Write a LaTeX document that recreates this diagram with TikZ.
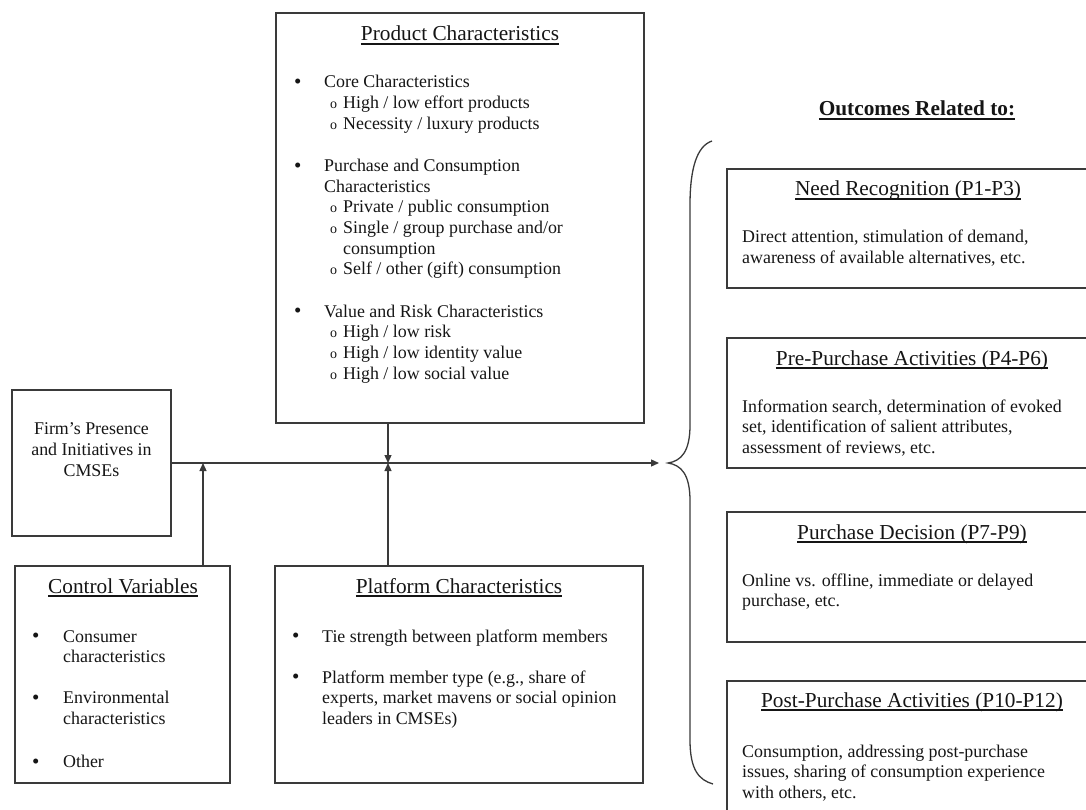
\documentclass[tikz,border=0pt]{standalone}
\usepackage{fontspec}
\setmainfont{Liberation Serif}
\usetikzlibrary{arrows.meta}

\definecolor{boxline}{HTML}{3A3A3A}
\definecolor{inkclr}{HTML}{151515}

% underlined heading with the rule set just below the baseline
\newlength\ulwd
\newcommand\ulhead[2][1.4pt]{\settowidth\ulwd{#2}\rlap{\rule[-3.6pt]{\ulwd}{#1}}#2}
% list markers
\newcommand\bul[1][30pt]{\makebox[#1][l]{\raisebox{-0.5pt}{\fontsize{21}{21}\selectfont\textbullet}}}
\newcommand\subb{\hspace*{36pt}\makebox[13pt][l]{\fontsize{14}{14}\selectfont o}}

\begin{document}
\begin{tikzpicture}[x=1pt,y=-1pt,
  box/.style={draw=boxline, line width=1.5pt, inner sep=0pt},
  body/.style={inner sep=0pt, anchor=base west, text=inkclr,
    font=\fontsize{17.9}{20.6}\selectfont},
  head/.style={inner sep=0pt, anchor=base, text=inkclr,
    font=\fontsize{21.3}{24}\selectfont},
  arr/.style={draw=boxline, line width=1.3pt,
    -{Triangle[length=8pt,width=7pt]}},
  brace/.style={draw=boxline, line width=1.3pt}]
\useasboundingbox (0,0) rectangle (1086,810);
\clip (0,0) rectangle (1086,810);

% ---- boxes ----
\node[box, minimum width=368, minimum height=410] (prod) at (460,218) {};
\node[box, minimum width=159, minimum height=146] (firm) at (91.5,463) {};
\node[box, minimum width=215, minimum height=217] (ctrl) at (122.5,674.5) {};
\node[box, minimum width=368, minimum height=217] (plat) at (459,674.5) {};
\node[box, minimum width=368, minimum height=119] (need) at (911,228.5) {};
\node[box, minimum width=368, minimum height=130] (pre)  at (911,403) {};
\node[box, minimum width=368, minimum height=130] (dec)  at (911,577) {};
\node[box, minimum width=368, minimum height=150] (post) at (911,756) {};

% ---- headings ----
\node[head] (prodT) at (460,41) {\ulhead{Product Characteristics}};
\node[head] (ctrlT) at (123,593) {\ulhead{Control Variables}};
\node[head] (platT) at (459,593) {\ulhead{Platform Characteristics}};
\node[head] (needT) at (908,196) {\ulhead{Need Recognition (P1-P3)}};
\node[head] (preT)  at (912,365) {\ulhead{Pre-Purchase Activities (P4-P6)}};
\node[head] (decT)  at (912,539) {\ulhead{Purchase Decision (P7-P9)}};
\node[head] (postT) at (912,707) {\ulhead{Post-Purchase Activities (P10-P12)}};
\node[head, font=\bfseries\fontsize{21.3}{24}\selectfont] (outT) at (917,116)
  {\ulhead[2pt]{Outcomes Related to:}};

% ---- box contents ----
\node[body] (prodL) at (294,88) {\begin{tabular}[t]{@{}l@{}}
\bul Core Characteristics\\
\subb High / low effort products\\
\subb Necessity / luxury products\\[22pt]
\bul Purchase and Consumption\\
\hspace*{30pt}Characteristics\\
\subb Private / public consumption\\
\subb Single / group purchase and/or\\
\hspace*{49pt}consumption\\
\subb Self / other (gift) consumption\\[22pt]
\bul Value and Risk Characteristics\\
\subb High / low risk\\
\subb High / low identity value\\
\subb High / low social value
\end{tabular}};

\node[body, anchor=base, font=\fontsize{17.9}{21}\selectfont] (firmL) at (91.5,434)
  {\begin{tabular}[t]{@{}c@{}}Firm’s Presence\\and Initiatives in\\CMSEs\end{tabular}};

\node[body] (ctrlL) at (32,642) {\begin{tabular}[t]{@{}l@{}}
\bul[31pt]Consumer\\
\hspace*{31pt}characteristics\\[20.5pt]
\bul[31pt]Environmental\\
\hspace*{31pt}characteristics\\[23pt]
\bul[31pt]Other
\end{tabular}};

\node[body] (platL) at (292,642) {\begin{tabular}[t]{@{}l@{}}
\bul Tie strength between platform members\\[20.5pt]
\bul Platform member type (e.g., share of\\
\hspace*{30pt}experts, market mavens or social opinion\\
\hspace*{30pt}leaders in CMSEs)
\end{tabular}};

\node[body] (needL) at (742,243) {\begin{tabular}[t]{@{}l@{}}
Direct attention, stimulation of demand,\\
awareness of available alternatives, etc.
\end{tabular}};
\node[body] (preL) at (742,412) {\begin{tabular}[t]{@{}l@{}}
Information search, determination of evoked\\
set, identification of salient attributes,\\
assessment of reviews, etc.
\end{tabular}};
\node[body] (decL) at (742,586) {\begin{tabular}[t]{@{}l@{}}
Online vs. offline, immediate or delayed\\
purchase, etc.
\end{tabular}};
\node[body] (postL) at (742,757) {\begin{tabular}[t]{@{}l@{}}
Consumption, addressing post-purchase\\
issues, sharing of consumption experience\\
with others, etc.
\end{tabular}};

% ---- connectors ----
\coordinate (tip) at (659,463);
\coordinate (cj) at (203,463);
\coordinate (pj) at (388,463);
\draw[arr] (firm.east) -- (tip);
\draw[arr] (ctrl.north -| cj) -- (cj);
\draw[arr] (plat.north -| pj) -- (pj);
\draw[arr] (prod.south -| pj) -- (pj);

% ---- brace grouping the outcomes ----
\draw[brace] (712,141) .. controls (697,146) and (690,168) .. (690,205)
  -- (690,425) .. controls (690,452) and (681,461) .. (668,463)
  .. controls (681,465) and (690,474) .. (690,501)
  -- (690,740) .. controls (690,770) and (699,780) .. (713,784);
\end{tikzpicture}
\end{document}
